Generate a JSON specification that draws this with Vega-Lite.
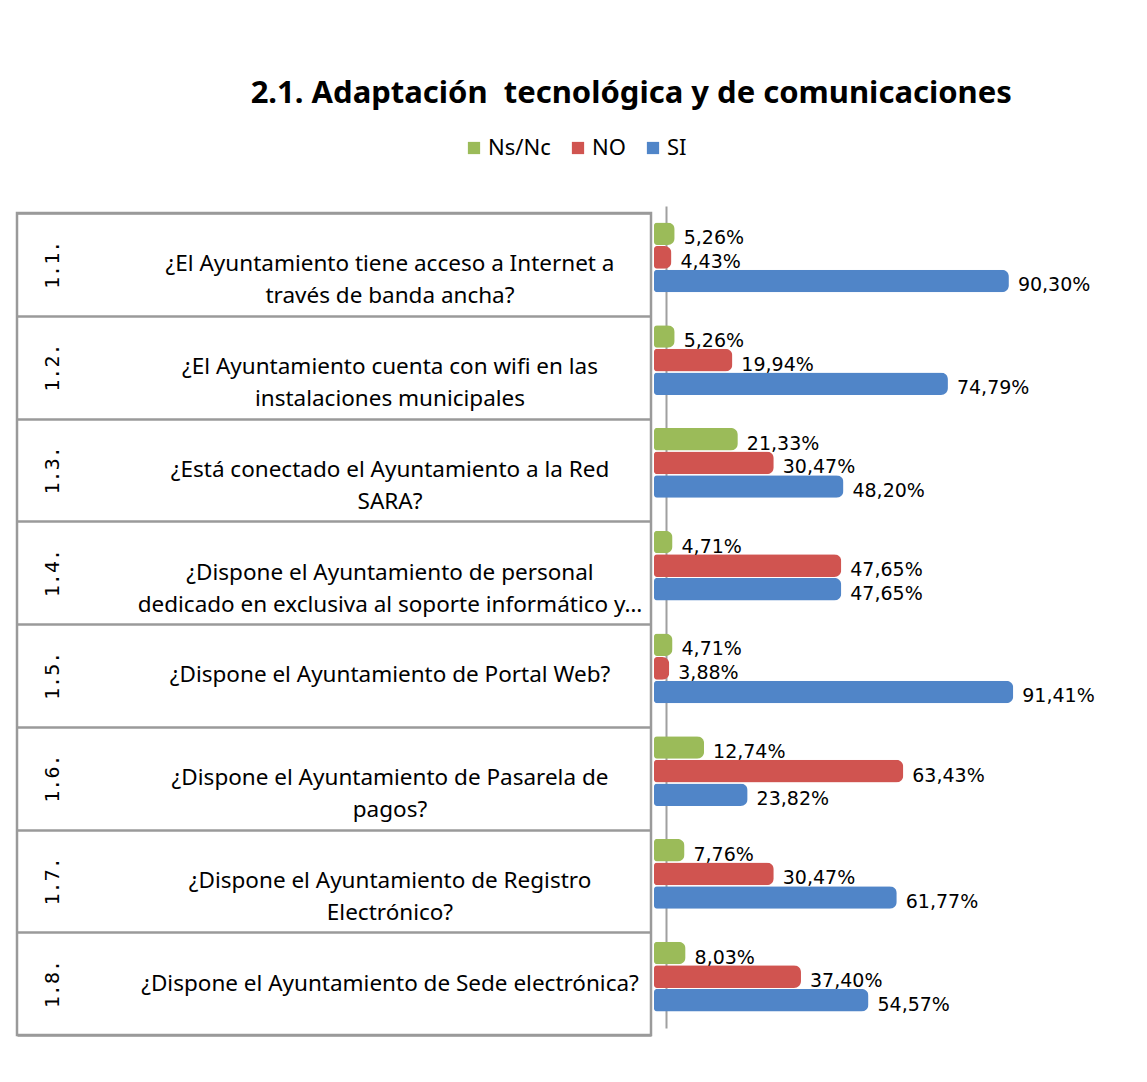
{
  "$schema": "https://vega.github.io/schema/vega-lite/v6.json",
  "background": "white",
  "padding": {"left": 15, "top": 78, "right": 0, "bottom": 0},
  "title": {
    "text": "2.1. Adaptación\u00a0 tecnológica y de comunicaciones",
    "font": "Noto Sans",
    "fontSize": 31,
    "fontWeight": "bold",
    "color": "black",
    "anchor": "middle",
    "dx": 76,
    "offset": 27
  },
  "datasets": {
    "q": [
      {"code": "1.1.", "pregunta": "¿El Ayuntamiento tiene acceso a Internet a\ntravés de banda ancha?"},
      {"code": "1.2.", "pregunta": "¿El Ayuntamiento cuenta con wifi en las\ninstalaciones municipales"},
      {"code": "1.3.", "pregunta": "¿Está conectado el Ayuntamiento a la Red\nSARA?"},
      {"code": "1.4.", "pregunta": "¿Dispone el Ayuntamiento de personal\ndedicado en exclusiva al soporte informático y…"},
      {"code": "1.5.", "pregunta": "¿Dispone el Ayuntamiento de Portal Web?"},
      {"code": "1.6.", "pregunta": "¿Dispone el Ayuntamiento de Pasarela de\npagos?"},
      {"code": "1.7.", "pregunta": "¿Dispone el Ayuntamiento de Registro\nElectrónico?"},
      {"code": "1.8.", "pregunta": "¿Dispone el Ayuntamiento de Sede electrónica?"}
    ],
    "v": [
      {"code": "1.1.", "serie": "Ns/Nc", "v": 5.26},
      {"code": "1.1.", "serie": "NO", "v": 4.43},
      {"code": "1.1.", "serie": "SI", "v": 90.30},
      {"code": "1.2.", "serie": "Ns/Nc", "v": 5.26},
      {"code": "1.2.", "serie": "NO", "v": 19.94},
      {"code": "1.2.", "serie": "SI", "v": 74.79},
      {"code": "1.3.", "serie": "Ns/Nc", "v": 21.33},
      {"code": "1.3.", "serie": "NO", "v": 30.47},
      {"code": "1.3.", "serie": "SI", "v": 48.20},
      {"code": "1.4.", "serie": "Ns/Nc", "v": 4.71},
      {"code": "1.4.", "serie": "NO", "v": 47.65},
      {"code": "1.4.", "serie": "SI", "v": 47.65},
      {"code": "1.5.", "serie": "Ns/Nc", "v": 4.71},
      {"code": "1.5.", "serie": "NO", "v": 3.88},
      {"code": "1.5.", "serie": "SI", "v": 91.41},
      {"code": "1.6.", "serie": "Ns/Nc", "v": 12.74},
      {"code": "1.6.", "serie": "NO", "v": 63.43},
      {"code": "1.6.", "serie": "SI", "v": 23.82},
      {"code": "1.7.", "serie": "Ns/Nc", "v": 7.76},
      {"code": "1.7.", "serie": "NO", "v": 30.47},
      {"code": "1.7.", "serie": "SI", "v": 61.77},
      {"code": "1.8.", "serie": "Ns/Nc", "v": 8.03},
      {"code": "1.8.", "serie": "NO", "v": 37.40},
      {"code": "1.8.", "serie": "SI", "v": 54.57}
    ]
  },
  "spacing": 1,
  "hconcat": [
    {
      "width": 634,
      "height": 822,
      "view": {"stroke": "#9a9a9a", "strokeWidth": 2.5},
      "data": {"name": "q"},
      "mark": {
        "type": "text",
        "font": "Noto Sans",
        "fontSize": 22.5,
        "letterSpacing": 0.4,
        "lineBreak": "\n",
        "lineHeight": 32,
        "align": "center",
        "baseline": "middle",
        "dx": 56,
        "color": "black"
      },
      "encoding": {
        "y": {
          "field": "code",
          "type": "nominal",
          "sort": null,
          "scale": {"paddingInner": 0, "paddingOuter": 0},
          "axis": {
            "title": null,
            "orient": "left",
            "grid": true,
            "tickBand": "extent",
            "gridColor": "#9a9a9a",
            "gridWidth": 2.5,
            "domain": false,
            "ticks": false,
            "tickSize": 0,
            "labelAngle": 270,
            "labelAlign": "center",
            "labelBaseline": "bottom",
            "labelPadding": -45,
            "labelFont": "DejaVu Sans Mono",
            "labelFontSize": 20,
            "labelColor": "black",
            "minExtent": 0
          }
        },
        "text": {"field": "pregunta"}
      }
    },
    {
      "width": 393,
      "height": 822,
      "view": {"stroke": null},
      "data": {"name": "v"},
      "transform": [
        {"calculate": "replace(format(datum.v, '.2f'), '.', ',') + '%'", "as": "lbl"}
      ],
      "encoding": {
        "y": {
          "field": "code",
          "type": "nominal",
          "sort": null,
          "scale": {"paddingInner": 0.32, "paddingOuter": 0.16, "range": [-7, 815]},
          "axis": {
            "title": null,
            "orient": "left",
            "labels": false,
            "ticks": false,
            "grid": false,
            "domain": true,
            "domainColor": "#a0a0a0",
            "domainWidth": 2,
            "offset": -12,
            "minExtent": 0
          }
        },
        "yOffset": {
          "field": "serie",
          "type": "nominal",
          "sort": ["Ns/Nc", "NO", "SI"],
          "scale": {"paddingInner": 0.04, "paddingOuter": 0}
        },
        "x": {
          "field": "v",
          "type": "quantitative",
          "scale": {"domain": [0, 100], "nice": false},
          "axis": null
        }
      },
      "layer": [
        {
          "mark": {"type": "bar", "cornerRadius": 3, "cornerRadiusEnd": 7, "opacity": 1},
          "encoding": {
            "color": {
              "field": "serie",
              "type": "nominal",
              "sort": ["Ns/Nc", "NO", "SI"],
              "scale": {"domain": ["Ns/Nc", "NO", "SI"], "range": ["#9BBB59", "#D05450", "#5085C8"]},
              "legend": {
                "title": null,
                "orient": "none",
                "direction": "horizontal",
                "legendX": 446,
                "legendY": -76,
                "symbolType": "square",
                "symbolSize": 150,
                "symbolStrokeWidth": 0,
                "symbolOpacity": 1,
                "labelFont": "Noto Sans",
                "labelFontSize": 22,
                "labelColor": "black",
                "labelOffset": 3,
                "columnPadding": 16
              }
            }
          }
        },
        {
          "mark": {
            "type": "text",
            "align": "left",
            "baseline": "middle",
            "dx": 9,
            "dy": 4.5,
            "font": "DejaVu Sans",
            "fontSize": 19,
            "color": "black"
          },
          "encoding": {"text": {"field": "lbl"}}
        }
      ]
    }
  ],
  "resolve": {"scale": {"y": "independent"}},
  "config": {"view": {"stroke": null}}
}
